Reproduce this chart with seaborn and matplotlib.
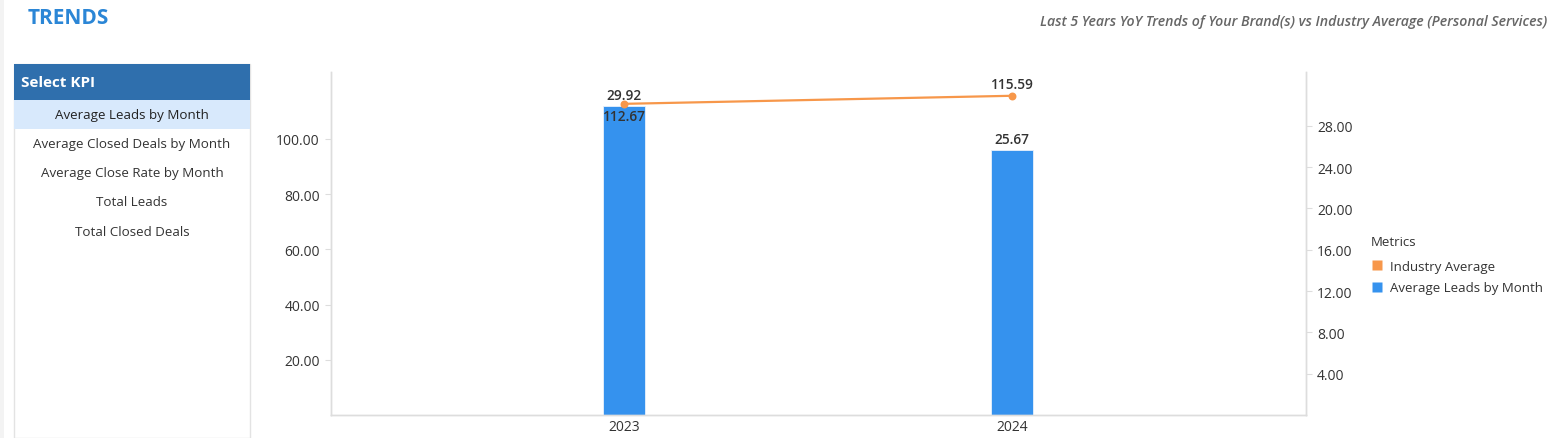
import matplotlib
matplotlib.use("Agg")
import matplotlib.pyplot as plt
import seaborn as sns
from matplotlib.patches import Rectangle
from matplotlib.lines import Line2D
from matplotlib.ticker import FormatStrFormatter

years = ["2023", "2024"]
leads = [29.92, 25.67]            # Average Leads by Month (right axis)
industry = [112.67, 115.59]       # Industry Average (left axis)
kpis = ["Average Leads by Month", "Average Closed Deals by Month",
        "Average Close Rate by Month", "Total Leads", "Total Closed Deals"]
left_ticks = [20, 40, 60, 80, 100]
right_ticks = [4, 8, 12, 16, 20, 24, 28]

BLUE = "#3592ee"
ORANGE = "#f7974a"
GRID = "#dddddd"
TXT = "#333333"

sns.set_theme(style="white")
plt.rcParams["font.family"] = ["Open Sans", "DejaVu Sans"]

W, H = 1558, 439
fig = plt.figure(figsize=(W / 100, H / 100), dpi=100)
fig.patch.set_facecolor("white")


def fx(x):
    return x / W


def fy(y):
    return 1 - y / H


# page chrome
fig.add_artist(Rectangle((0, 0), fx(4), 1, transform=fig.transFigure,
                         facecolor="#f3f3f3", edgecolor="none"))
fig.text(fx(28), fy(18), "TRENDS", color="#2b86d6", fontsize=15,
         fontweight="bold", va="center", ha="left")
fig.text(fx(1547), fy(22),
         "Last 5 Years YoY Trends of Your Brand(s) vs Industry Average (Personal Services)",
         color="#666666", fontsize=10.2, fontstyle="italic", fontweight="semibold",
         ha="right", va="center")

# KPI selector panel
fig.add_artist(Rectangle((fx(14), 0), fx(250) - fx(14), fy(65), transform=fig.transFigure,
                         facecolor="white", edgecolor="#e3e3e3", lw=1))
fig.add_artist(Rectangle((fx(14), fy(101)), fx(250) - fx(14), fy(65) - fy(101),
                         transform=fig.transFigure, facecolor="#2f6fad", edgecolor="none"))
fig.add_artist(Rectangle((fx(14), fy(130)), fx(250) - fx(14), fy(101) - fy(130),
                         transform=fig.transFigure, facecolor="#d8e9fc", edgecolor="none"))
fig.text(fx(21), fy(83), "Select KPI", color="white", fontsize=11,
         fontweight="bold", va="center", ha="left")
for i, k in enumerate(kpis):
    fig.text(fx(132), fy(115 + i * 29.3), k, color="#222222" if i == 0 else TXT,
             fontsize=9.6, ha="center", va="center")

# chart
ax = fig.add_axes([fx(331), fy(416), fx(1306) - fx(331), fy(73) - fy(416)])
ax2 = ax.twinx()

sns.barplot(x=years, y=leads, ax=ax2, color=BLUE, saturation=1, width=0.108,
            edgecolor="#e8f1fb", linewidth=0.6)
sns.pointplot(x=years, y=industry, ax=ax, color=ORANGE, markersize=4.5,
              linewidth=1.6)

ax.set_zorder(ax2.get_zorder() + 1)
ax.patch.set_visible(False)

ax.set_xlim(-0.755, 1.758)
ax.set_ylim(0, 124.2)
ax2.set_ylim(0, 33.2)
ax.set_yticks(left_ticks)
ax2.set_yticks(right_ticks)
ax.yaxis.set_major_formatter(FormatStrFormatter("%.2f"))
ax2.yaxis.set_major_formatter(FormatStrFormatter("%.2f"))
ax.set_xlabel("")
ax.set_ylabel("")
ax2.set_ylabel("")

for a in (ax, ax2):
    a.spines["top"].set_visible(False)
    for side in ("left", "right", "bottom"):
        a.spines[side].set_color(GRID)
        a.spines[side].set_linewidth(1)
    a.tick_params(axis="y", length=4, width=0.8, color=GRID, labelsize=10,
                  labelcolor=TXT, pad=4)
ax.tick_params(axis="x", length=0, labelsize=10, labelcolor=TXT, pad=3)
ax2.tick_params(axis="x", length=0)

# value labels (2023 labels swap to avoid the line point)
lab = dict(fontsize=9.8, fontweight="semibold", color=TXT, ha="center", va="center",
           textcoords="offset pixels")
ax2.annotate(f"{leads[0]:.2f}", (0, leads[0]), xytext=(0, 11), **lab)
ax.annotate(f"{industry[0]:.2f}", (0, industry[0]), xytext=(0, -12), **lab)
ax2.annotate(f"{leads[1]:.2f}", (1, leads[1]), xytext=(0, 11), **lab)
ax.annotate(f"{industry[1]:.2f}", (1, industry[1]), xytext=(0, 12), **lab)

handles = [Line2D([], [], marker="s", linestyle="none", markersize=7.5,
                  markerfacecolor=ORANGE, markeredgecolor="none"),
           Line2D([], [], marker="s", linestyle="none", markersize=7.5,
                  markerfacecolor=BLUE, markeredgecolor="none")]
leg = fig.legend(handles, ["Industry Average", "Average Leads by Month"],
                 title="Metrics", loc="upper left", bbox_to_anchor=(fx(1364), fy(229)),
                 frameon=False, fontsize=9.5, title_fontsize=9.5,
                 handletextpad=0.45, labelspacing=0.62, borderpad=0, handlelength=1.0)
leg._legend_box.align = "left"
leg._legend_box.sep = 9
leg.get_title().set_color(TXT)
for t in leg.get_texts():
    t.set_color(TXT)

fig.savefig("out.png", dpi=100)
